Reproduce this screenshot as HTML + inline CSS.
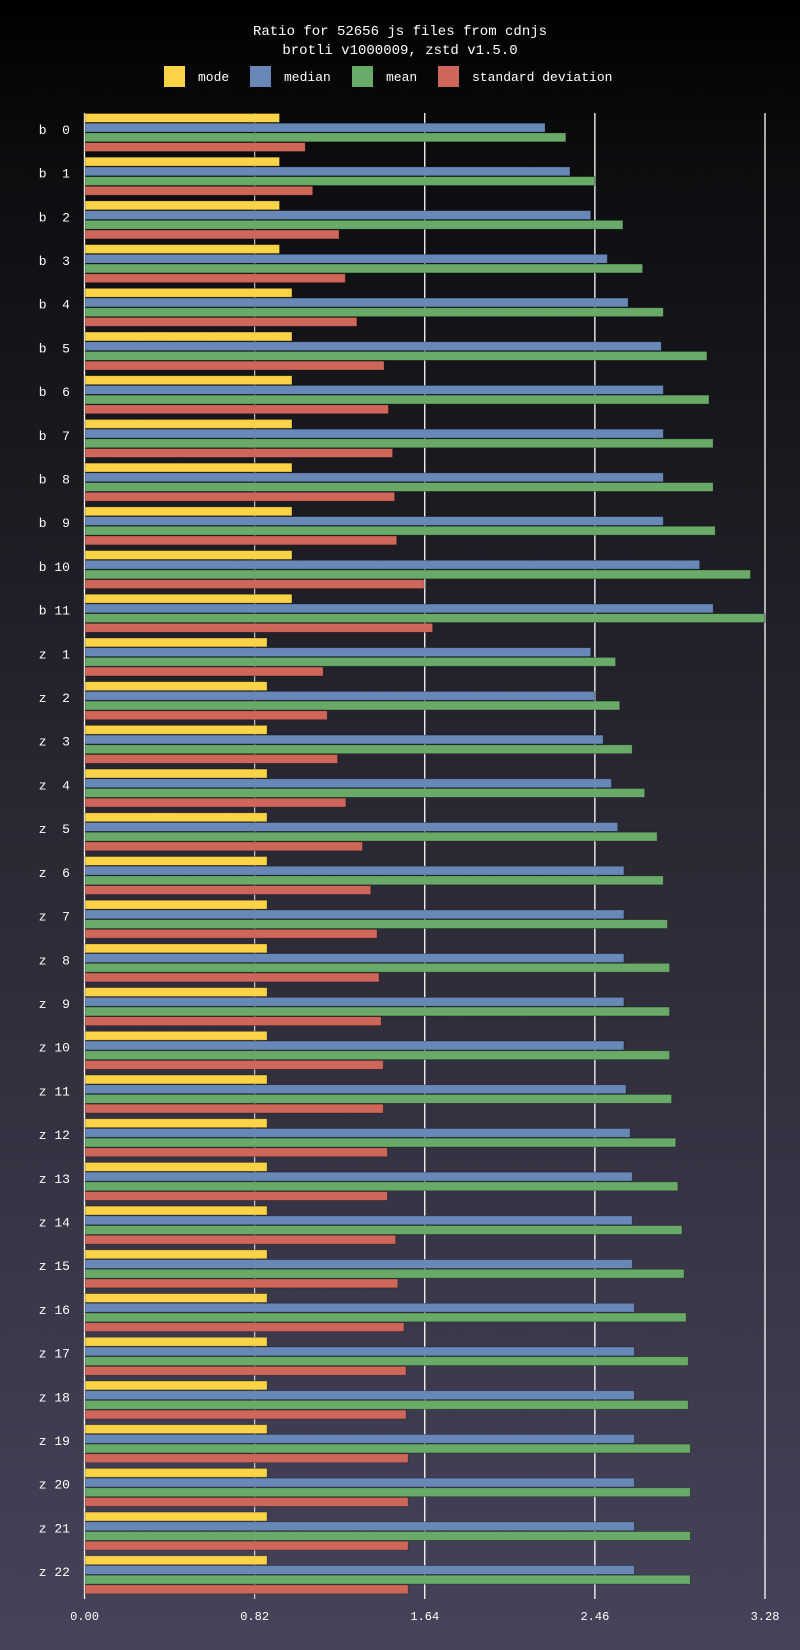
<!DOCTYPE html>
<html><head><meta charset="utf-8"><style>
html,body{margin:0;padding:0;width:800px;height:1650px;overflow:hidden;}
body{background:linear-gradient(#000 0%,#0d0d10 10%,#2a2833 50%,#46435a 100%);font-family:"Liberation Mono","DejaVu Sans Mono",monospace;}
svg text{font-family:"Liberation Mono","DejaVu Sans Mono",monospace;fill:#fff;}
</style></head><body>
<svg id="chart" width="800" height="1650" xmlns="http://www.w3.org/2000/svg">
<text x="400" y="35" text-anchor="middle" font-size="14">Ratio for 52656 js files from cdnjs</text>
<text x="400" y="54" text-anchor="middle" font-size="14">brotli v1000009, zstd v1.5.0</text>
<g>
<rect x="164" y="66" width="21" height="21" fill="#fbd347"/>
<text x="198" y="81" font-size="13">mode</text>
<rect x="250" y="66" width="21" height="21" fill="#6888b8"/>
<text x="284" y="81" font-size="13">median</text>
<rect x="352" y="66" width="21" height="21" fill="#6aaa68"/>
<text x="386" y="81" font-size="13">mean</text>
<rect x="438" y="66" width="21" height="21" fill="#cf665a"/>
<text x="472" y="81" font-size="13">standard deviation</text>
</g>
<g id="grid"></g><g id="bars"></g><g id="labels"></g>
</svg>
<script>
const categories=["b  0","b  1","b  2","b  3","b  4","b  5","b  6","b  7","b  8","b  9","b 10","b 11",
"z  1","z  2","z  3","z  4","z  5","z  6","z  7","z  8","z  9","z 10","z 11","z 12","z 13","z 14","z 15","z 16","z 17","z 18","z 19","z 20","z 21","z 22"];
const modeVals=[0.94,0.94,0.94,0.94,1.0,1.0,1.0,1.0,1.0,1.0,1.0,1.0,
0.88,0.88,0.88,0.88,0.88,0.88,0.88,0.88,0.88,0.88,0.88,0.88,0.88,0.88,0.88,0.88,0.88,0.88,0.88,0.88,0.88,0.88];
const medianVals=[2.22,2.34,2.44,2.52,2.62,2.78,2.79,2.79,2.79,2.79,2.965,3.03,
2.44,2.46,2.50,2.54,2.57,2.60,2.60,2.60,2.60,2.60,2.61,2.63,2.64,2.64,2.64,2.65,2.65,2.65,2.65,2.65,2.65,2.65];
const meanVals=[2.32,2.46,2.595,2.69,2.79,3.0,3.01,3.03,3.03,3.04,3.21,3.28,
2.56,2.58,2.64,2.70,2.76,2.79,2.81,2.82,2.82,2.82,2.83,2.85,2.86,2.88,2.89,2.90,2.91,2.91,2.92,2.92,2.92,2.92];
const sdVals=[1.064,1.10,1.227,1.257,1.313,1.444,1.465,1.485,1.495,1.505,1.637,1.678,
1.15,1.17,1.22,1.26,1.34,1.38,1.41,1.42,1.43,1.44,1.44,1.46,1.46,1.50,1.51,1.54,1.55,1.55,1.56,1.56,1.56,1.56];
const tickVals=[0,0.82,1.64,2.46,3.28];
const tickLabels=["0.00","0.82","1.64","2.46","3.28"];

const NS="http://www.w3.org/2000/svg";
const X0=84.5,X1=765,VMAX=3.28,TOP=113,BOT=1599;
const xs=v=>X0+(v/VMAX)*(X1-X0);
const gh=(BOT-TOP)/categories.length;
const bh=gh*0.222;
const series=[[modeVals,"#fbd347","mode"],[medianVals,"#6888b8","median"],[meanVals,"#6aaa68","mean"],[sdVals,"#cf665a","sd"]];
const grid=document.getElementById("grid"),bars=document.getElementById("bars"),labels=document.getElementById("labels");
tickVals.forEach((t,i)=>{
  const l=document.createElementNS(NS,"line");
  
  
  l.setAttribute("x1",xs(t));l.setAttribute("x2",xs(t));l.setAttribute("y1",TOP);l.setAttribute("y2",BOT);
  l.setAttribute("stroke",i===1?"rgba(255,255,255,0.7)":"#fff");l.setAttribute("stroke-width","1.3");
  grid.appendChild(l);
  const tx=document.createElementNS(NS,"text");
  
  
  tx.setAttribute("x",xs(t));tx.setAttribute("y",1620);tx.setAttribute("text-anchor","middle");tx.setAttribute("font-size","12");
  tx.textContent=tickLabels[i];labels.appendChild(tx);
});
categories.forEach((c,i)=>{
  const gy=TOP+i*gh;
  series.forEach((s,j)=>{
    const r=document.createElementNS(NS,"rect");
    
    
    r.setAttribute("x",X0+0.5);r.setAttribute("y",gy+j*bh+0.5);
    r.setAttribute("width",Math.max(0,xs(s[0][i])-X0-0.5));r.setAttribute("height",bh-0.8);
    r.setAttribute("fill",s[1]);r.setAttribute("stroke","rgba(0,0,0,0.35)");r.setAttribute("stroke-width","0.8");
    bars.appendChild(r);
  });
  const t=document.createElementNS(NS,"text");
  
  
  t.setAttribute("x",70);t.setAttribute("y",gy+gh*0.5-1);t.setAttribute("text-anchor","end");t.setAttribute("font-size","13");
  t.setAttribute("xml:space","preserve");t.style.whiteSpace="pre";
  t.textContent=c;labels.appendChild(t);
});
</script>
</body></html>
